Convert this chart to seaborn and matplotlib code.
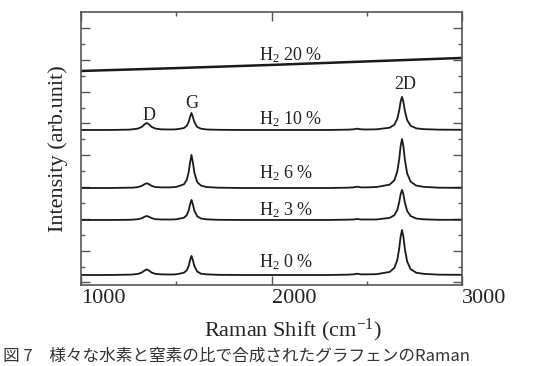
import matplotlib
matplotlib.use("Agg")
import matplotlib.pyplot as plt
from matplotlib.ticker import MultipleLocator, FixedLocator
import seaborn as sns
import pandas as pd

# Raman shift grid (cm^-1), shared by the stacked spectra
shift = [1000, 1150, 1250, 1270, 1300, 1320, 1335, 1345, 1355, 1370, 1390, 1420,
         1470, 1500, 1540, 1555, 1565, 1572, 1580, 1588, 1595, 1610, 1630, 1660,
         1720, 1850, 2000, 2150, 2300, 2400, 2430, 2450, 2470, 2500, 2550, 2620,
         2645, 2660, 2670, 2678, 2685, 2692, 2700, 2712, 2730, 2760, 2800, 2880, 3000]

# intensities (arb. unit, already vertically offset)
h2_0 = [0.63, 0.63, 0.65, 0.66, 0.70, 0.79, 0.92, 0.98, 0.92, 0.79, 0.70, 0.67,
        0.66, 0.67, 0.77, 0.92, 1.19, 1.53, 1.83, 1.53, 1.19, 0.85, 0.71, 0.67,
        0.64, 0.63, 0.63, 0.63, 0.63, 0.65, 0.67, 0.71, 0.67, 0.67, 0.68, 0.82,
        1.08, 1.56, 2.27, 3.06, 3.46, 3.06, 2.27, 1.48, 1.00, 0.77, 0.70, 0.65, 0.64]
h2_3 = [4.09, 4.09, 4.10, 4.11, 4.14, 4.20, 4.30, 4.34, 4.30, 4.21, 4.14, 4.12,
        4.12, 4.13, 4.23, 4.39, 4.68, 5.04, 5.35, 5.04, 4.68, 4.32, 4.18, 4.13,
        4.10, 4.09, 4.09, 4.09, 4.09, 4.11, 4.12, 4.15, 4.12, 4.12, 4.12, 4.22,
        4.39, 4.71, 5.19, 5.72, 5.98, 5.72, 5.19, 4.66, 4.34, 4.18, 4.13, 4.10, 4.10]
h2_6 = [6.10, 6.10, 6.12, 6.12, 6.16, 6.24, 6.35, 6.40, 6.35, 6.24, 6.16, 6.14,
        6.14, 6.17, 6.33, 6.60, 7.08, 7.66, 8.18, 7.66, 7.08, 6.47, 6.25, 6.16,
        6.12, 6.10, 6.10, 6.10, 6.10, 6.12, 6.14, 6.18, 6.14, 6.14, 6.16, 6.31,
        6.59, 7.12, 7.89, 8.75, 9.18, 8.75, 7.89, 7.02, 6.50, 6.25, 6.17, 6.12, 6.11]
h2_10 = [9.75, 9.75, 9.77, 9.79, 9.84, 9.95, 10.12, 10.19, 10.12, 9.95, 9.84, 9.79,
         9.78, 9.79, 9.87, 10.01, 10.25, 10.55, 10.82, 10.55, 10.25, 9.94, 9.83, 9.78,
         9.76, 9.75, 9.75, 9.75, 9.75, 9.77, 9.79, 9.83, 9.79, 9.78, 9.79, 9.89,
         10.08, 10.44, 10.96, 11.54, 11.83, 11.54, 10.96, 10.37, 10.02, 9.85, 9.80, 9.77, 9.76]

# H2 20 %: featureless sloping background
shift_20 = [1000, 1500, 2000, 2500, 3000]
h2_20 = [13.46, 13.64, 13.84, 14.06, 14.28]

labels = ["H$_2$ 0 %", "H$_2$ 3 %", "H$_2$ 6 %", "H$_2$ 10 %", "H$_2$ 20 %"]
label_y = [1.13, 4.40, 6.70, 10.13, 14.15]
peak_names = ["D", "G", "2D"]
peak_x = [1356, 1581, 2702]
peak_y = [10.38, 11.13, 12.33]

frames = []
for name, vals in zip(labels[:4], [h2_0, h2_3, h2_6, h2_10]):
    frames.append(pd.DataFrame({"shift": shift, "intensity": vals, "sample": name}))
df = pd.concat(frames, ignore_index=True)
df20 = pd.DataFrame({"shift": shift_20, "intensity": h2_20, "sample": labels[4]})

sns.set_style("ticks")
plt.rcParams["font.family"] = ["Liberation Serif", "DejaVu Serif"]
plt.rcParams["mathtext.default"] = "regular"

fig = plt.figure(figsize=(5.41, 3.66), dpi=100)
ax = fig.add_axes([0.1497, 0.2213, 0.7043, 0.7451])

sns.lineplot(data=df, x="shift", y="intensity", units="sample", estimator=None,
             sort=False, color="#1a1a1a", lw=1.3, ax=ax)
sns.lineplot(data=df20, x="shift", y="intensity", estimator=None,
             color="#1a1a1a", lw=1.8, ax=ax)

ax.set_xlim(1000, 3000)
ax.set_ylim(0, 17.15)

# sample and peak labels
for txt, yy in zip(labels, label_y):
    ax.text(1932, yy, txt, fontsize=13, color="#222222", va="baseline", ha="left")
for txt, xx, yy in zip(peak_names, peak_x, peak_y):
    ax.text(xx, yy, txt, fontsize=13, color="#222222", va="baseline", ha="center")

ax.xaxis.set_major_locator(FixedLocator([1000, 2000, 3000]))
ax.xaxis.set_minor_locator(FixedLocator([1500, 2500]))
ax.yaxis.set_major_locator(MultipleLocator(2, offset=0.16))
ax.yaxis.set_minor_locator(MultipleLocator(1, offset=0.16))
ax.tick_params(which="both", direction="in", top=True, right=True,
               color="#555555", width=1.0, labelleft=False)
ax.tick_params(which="major", length=6.5)
ax.tick_params(which="minor", length=3.2)
ax.tick_params(axis="x", labelsize=16, pad=3, labelcolor="#222222")
for lab in ax.get_xticklabels():
    lab.set_ha("left")

for sp in ax.spines.values():
    sp.set_color("#555555")
    sp.set_linewidth(1.2)

ax.set_xlabel("Raman Shift (cm$^{-1}$)", fontsize=16, color="#222222")
ax.set_ylabel("Intensity (arb.unit)", fontsize=16, color="#222222")
ax.xaxis.set_label_coords(0.556, -0.165)
ax.xaxis.label.set_va("center")
ax.yaxis.set_label_coords(-0.06, 0.5)
ax.yaxis.label.set_va("center")

# figure caption along the lower edge
fig.text(3 / 541, 1 - 348 / 366,
         "図 7　様々な水素と窒素の比で合成されたグラフェンのRaman",
         fontsize=12, color="#333333", va="top", ha="left",
         family=["Noto Sans CJK JP", "DejaVu Sans"])

fig.savefig("out.png", dpi=100)
